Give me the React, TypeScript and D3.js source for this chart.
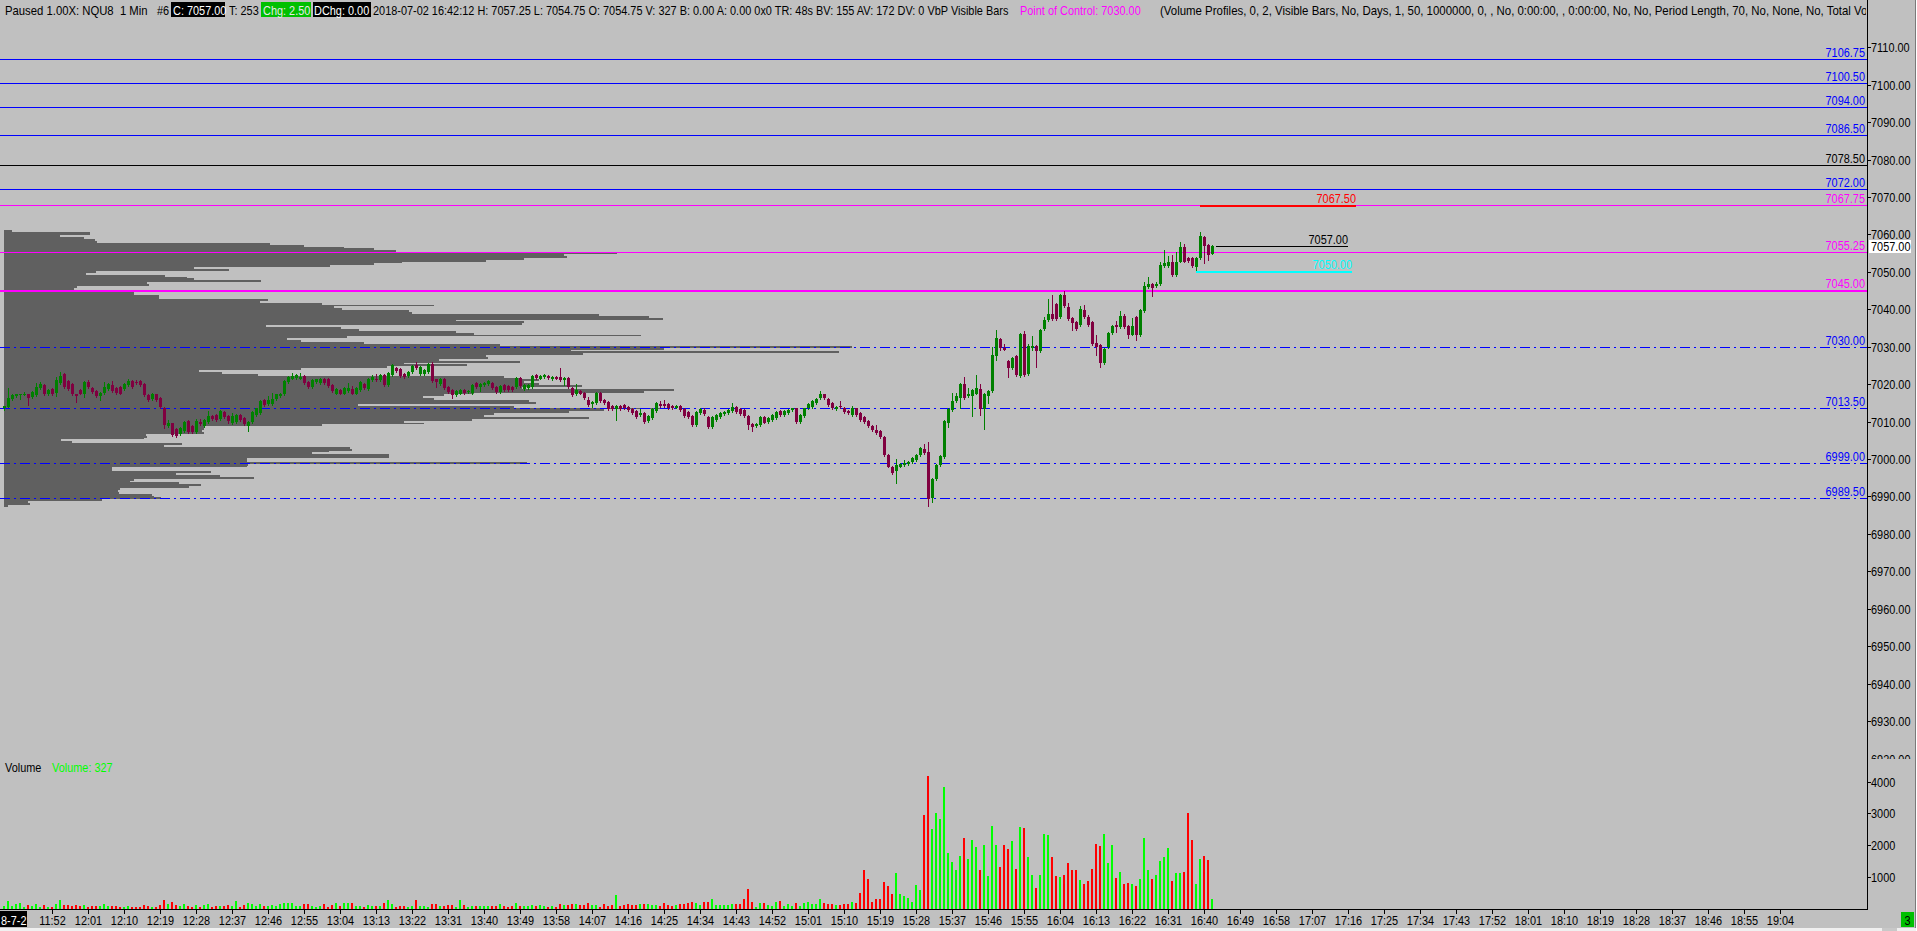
import React from 'react';
import * as d3 from 'd3';

const FONT = "'Liberation Sans', Arial, sans-serif";

// one-minute bars from 11:40, [open, high, low, close]
const candles: [number, number, number, number][] = [
  [7013.5, 7014.25, 7013.0, 7014.25], [7014.0, 7019.0, 7014.0, 7016.25], [7016.0, 7017.25, 7015.75, 7017.0], [7016.75, 7017.5, 7016.5, 7017.25],
  [7017.0, 7017.5, 7016.0, 7017.25], [7017.0, 7018.0, 7017.0, 7017.5], [7017.5, 7017.5, 7014.5, 7016.25], [7016.5, 7018.25, 7016.25, 7018.0],
  [7017.0, 7020.25, 7016.75, 7019.25], [7019.0, 7020.5, 7018.75, 7020.0], [7019.75, 7020.0, 7017.0, 7017.25], [7017.25, 7018.75, 7017.0, 7018.5],
  [7018.75, 7019.0, 7017.0, 7017.25], [7017.75, 7022.0, 7016.75, 7021.0], [7020.25, 7023.25, 7020.0, 7022.25], [7022.75, 7023.0, 7019.0, 7019.25],
  [7020.75, 7021.0, 7018.5, 7018.75], [7020.0, 7020.25, 7017.0, 7017.25], [7017.5, 7017.5, 7015.25, 7016.75], [7018.5, 7018.75, 7017.25, 7017.5],
  [7017.25, 7020.75, 7016.5, 7020.5], [7020.5, 7021.0, 7019.0, 7019.25], [7019.0, 7019.25, 7017.75, 7018.0], [7018.25, 7018.5, 7016.5, 7016.75],
  [7016.75, 7018.0, 7015.75, 7017.75], [7017.75, 7020.5, 7017.5, 7019.25], [7018.75, 7020.25, 7018.5, 7020.0], [7019.75, 7020.75, 7018.0, 7018.25],
  [7019.0, 7019.25, 7017.5, 7017.75], [7019.25, 7019.5, 7017.25, 7017.5], [7018.75, 7020.25, 7018.5, 7020.0], [7019.75, 7021.5, 7019.5, 7020.75],
  [7020.75, 7021.0, 7019.0, 7019.25], [7020.5, 7021.0, 7020.0, 7020.25], [7020.75, 7021.0, 7019.5, 7019.75], [7020.0, 7020.25, 7016.75, 7017.0],
  [7017.0, 7017.25, 7015.5, 7015.75], [7016.0, 7017.75, 7015.75, 7017.5], [7017.25, 7017.5, 7015.5, 7015.75], [7016.25, 7016.5, 7013.75, 7014.0],
  [7013.75, 7014.0, 7008.25, 7009.0], [7008.75, 7010.5, 7008.5, 7009.75], [7009.5, 7009.75, 7006.25, 7006.5], [7008.0, 7008.25, 7006.0, 7006.25],
  [7006.75, 7008.5, 7006.5, 7008.25], [7007.5, 7010.25, 7007.25, 7010.0], [7010.25, 7010.5, 7007.0, 7007.25], [7008.75, 7009.0, 7007.0, 7007.25],
  [7007.25, 7010.75, 7007.0, 7010.25], [7010.0, 7010.75, 7009.0, 7009.25], [7008.75, 7010.75, 7008.5, 7010.5], [7010.0, 7012.75, 7009.75, 7011.5],
  [7011.5, 7011.75, 7010.5, 7010.75], [7011.75, 7012.0, 7010.25, 7010.5], [7010.75, 7013.0, 7010.5, 7012.75], [7012.5, 7012.75, 7011.0, 7011.25],
  [7011.5, 7011.75, 7009.5, 7010.25], [7009.5, 7012.25, 7009.25, 7011.5], [7010.0, 7012.0, 7009.75, 7011.75], [7011.75, 7012.0, 7010.25, 7010.5],
  [7011.0, 7011.25, 7009.0, 7009.25], [7008.75, 7010.25, 7007.5, 7010.0], [7010.0, 7012.75, 7009.75, 7012.5], [7011.75, 7013.75, 7011.5, 7013.5],
  [7012.25, 7015.75, 7012.0, 7015.5], [7015.75, 7016.0, 7014.25, 7014.5], [7014.75, 7016.75, 7014.5, 7015.75], [7014.75, 7017.75, 7014.5, 7016.0],
  [7016.0, 7017.5, 7015.75, 7017.25], [7016.75, 7017.75, 7016.5, 7017.5], [7017.25, 7021.0, 7017.0, 7020.75], [7020.5, 7022.25, 7020.25, 7022.0],
  [7021.5, 7023.0, 7021.25, 7022.25], [7021.75, 7022.75, 7021.5, 7022.5], [7021.5, 7023.0, 7021.25, 7022.0], [7022.25, 7022.5, 7020.0, 7020.25],
  [7020.5, 7020.75, 7019.0, 7019.25], [7019.25, 7021.25, 7019.0, 7021.0], [7020.5, 7021.5, 7020.25, 7021.25], [7020.25, 7021.75, 7020.0, 7021.5],
  [7021.5, 7021.75, 7020.0, 7020.25], [7021.25, 7021.75, 7019.25, 7019.5], [7019.75, 7020.0, 7018.0, 7018.25], [7017.5, 7019.0, 7017.25, 7018.75],
  [7018.5, 7018.75, 7017.25, 7017.5], [7017.5, 7019.25, 7017.25, 7019.0], [7018.25, 7020.25, 7018.0, 7019.0], [7018.75, 7019.5, 7017.25, 7017.5],
  [7017.5, 7019.25, 7017.25, 7019.0], [7018.5, 7020.75, 7018.25, 7020.5], [7020.0, 7020.25, 7018.75, 7019.0], [7018.75, 7021.75, 7018.5, 7021.5],
  [7021.0, 7022.5, 7020.75, 7022.0], [7021.5, 7022.75, 7020.75, 7021.0], [7021.0, 7022.75, 7020.75, 7022.5], [7022.5, 7022.75, 7019.5, 7019.75],
  [7019.75, 7023.25, 7019.5, 7023.0], [7022.5, 7025.25, 7022.25, 7025.0], [7024.25, 7024.5, 7023.25, 7023.5], [7024.0, 7024.25, 7022.0, 7022.25],
  [7022.75, 7023.0, 7021.75, 7022.0], [7022.25, 7023.5, 7022.0, 7023.25], [7023.25, 7025.0, 7023.0, 7024.75], [7025.0, 7026.0, 7024.0, 7024.25],
  [7022.75, 7024.75, 7022.5, 7024.5], [7022.75, 7024.0, 7022.5, 7023.75], [7023.25, 7025.75, 7023.0, 7025.5], [7025.5, 7026.0, 7020.5, 7020.75],
  [7021.25, 7021.5, 7019.25, 7020.5], [7020.0, 7021.75, 7019.75, 7021.5], [7021.5, 7021.75, 7018.75, 7019.0], [7019.25, 7019.5, 7017.75, 7018.0],
  [7018.5, 7018.75, 7016.25, 7017.0], [7017.0, 7018.5, 7016.75, 7018.25], [7017.5, 7018.75, 7017.25, 7018.5], [7018.5, 7018.75, 7017.5, 7017.75],
  [7018.0, 7018.5, 7017.75, 7018.25], [7017.75, 7020.0, 7017.5, 7019.75], [7020.25, 7020.5, 7019.0, 7019.25], [7019.25, 7020.25, 7018.25, 7020.0],
  [7019.75, 7020.5, 7019.5, 7020.25], [7020.0, 7021.0, 7019.75, 7020.75], [7020.25, 7020.5, 7018.75, 7019.0], [7019.25, 7019.5, 7017.75, 7018.0],
  [7018.0, 7019.75, 7017.75, 7019.5], [7019.75, 7020.0, 7018.25, 7018.5], [7019.5, 7019.75, 7018.25, 7018.5], [7019.25, 7019.5, 7018.25, 7018.5],
  [7019.25, 7022.0, 7019.0, 7021.75], [7021.75, 7022.0, 7019.25, 7019.5], [7018.75, 7020.0, 7018.5, 7019.75], [7019.0, 7020.0, 7018.75, 7019.75],
  [7019.25, 7022.5, 7019.0, 7022.25], [7022.5, 7022.75, 7021.5, 7021.75], [7021.5, 7022.5, 7021.25, 7022.25], [7022.0, 7022.75, 7021.75, 7022.5],
  [7022.25, 7022.5, 7021.5, 7021.75], [7021.25, 7022.25, 7021.0, 7022.0], [7022.0, 7022.25, 7021.25, 7021.5], [7022.0, 7024.25, 7020.75, 7021.0],
  [7021.0, 7022.0, 7019.75, 7021.75], [7021.75, 7022.0, 7019.0, 7019.25], [7019.0, 7019.25, 7016.75, 7017.0], [7017.25, 7020.0, 7017.0, 7018.5],
  [7018.25, 7018.5, 7017.25, 7017.5], [7017.75, 7018.0, 7016.0, 7016.25], [7015.75, 7016.5, 7014.25, 7014.5], [7014.75, 7015.5, 7014.0, 7015.25],
  [7015.0, 7018.0, 7014.75, 7017.75], [7017.75, 7018.0, 7015.25, 7015.5], [7015.75, 7016.0, 7014.75, 7015.0], [7015.25, 7015.5, 7013.0, 7013.25],
  [7014.25, 7014.5, 7013.0, 7013.25], [7013.25, 7014.5, 7010.5, 7014.25], [7014.25, 7014.5, 7013.0, 7013.25], [7014.5, 7014.75, 7013.25, 7013.5],
  [7014.0, 7014.25, 7012.75, 7013.0], [7013.25, 7013.5, 7012.0, 7012.25], [7012.75, 7013.0, 7011.0, 7011.25], [7011.75, 7013.25, 7011.5, 7012.25],
  [7012.25, 7012.5, 7009.75, 7010.0], [7010.25, 7011.75, 7010.0, 7011.5], [7011.0, 7013.5, 7010.75, 7013.25], [7012.75, 7015.25, 7012.5, 7015.0],
  [7014.75, 7015.5, 7014.0, 7014.25], [7014.75, 7015.75, 7014.0, 7014.25], [7014.75, 7015.0, 7013.25, 7013.5], [7014.25, 7014.5, 7013.25, 7013.5],
  [7013.75, 7014.5, 7013.5, 7014.25], [7014.25, 7014.5, 7012.75, 7013.0], [7013.25, 7013.5, 7011.25, 7011.5], [7012.5, 7012.75, 7011.0, 7011.25],
  [7011.5, 7011.75, 7008.75, 7009.0], [7009.0, 7012.75, 7008.75, 7012.5], [7012.25, 7013.5, 7012.0, 7013.25], [7013.0, 7013.75, 7011.75, 7012.0],
  [7011.25, 7011.5, 7008.25, 7008.5], [7008.5, 7011.5, 7008.25, 7011.25], [7010.5, 7012.0, 7010.25, 7011.75], [7011.25, 7012.5, 7011.0, 7012.25],
  [7012.0, 7012.75, 7011.75, 7012.5], [7012.25, 7013.25, 7012.0, 7013.0], [7012.75, 7015.0, 7012.5, 7014.0], [7014.0, 7014.25, 7012.25, 7012.5],
  [7013.25, 7013.5, 7011.75, 7012.0], [7013.0, 7013.25, 7011.25, 7011.5], [7011.5, 7011.75, 7008.0, 7009.0], [7009.25, 7009.5, 7007.5, 7008.5],
  [7008.75, 7009.5, 7008.5, 7009.25], [7009.0, 7011.5, 7008.75, 7011.25], [7011.25, 7011.5, 7009.5, 7009.75], [7010.0, 7011.25, 7009.75, 7011.0],
  [7010.5, 7012.0, 7010.25, 7011.75], [7011.0, 7012.75, 7010.75, 7012.5], [7012.75, 7013.0, 7011.5, 7011.75], [7011.75, 7013.0, 7011.5, 7012.75],
  [7012.25, 7013.25, 7012.0, 7013.0], [7013.0, 7013.75, 7012.75, 7013.5], [7013.5, 7013.75, 7009.75, 7010.0], [7010.0, 7012.0, 7009.75, 7011.75],
  [7011.5, 7013.75, 7011.25, 7013.5], [7013.5, 7015.0, 7013.25, 7014.75], [7014.0, 7015.75, 7013.75, 7015.5], [7015.0, 7016.25, 7014.75, 7016.0],
  [7016.25, 7018.25, 7016.0, 7017.25], [7017.25, 7017.5, 7016.0, 7016.25], [7016.0, 7016.25, 7014.25, 7014.5], [7015.0, 7015.25, 7013.25, 7013.5],
  [7013.25, 7014.25, 7013.0, 7014.0], [7014.25, 7015.5, 7013.75, 7014.0], [7013.75, 7014.0, 7012.25, 7012.5], [7012.75, 7013.0, 7012.0, 7012.25],
  [7011.75, 7014.25, 7011.5, 7013.5], [7013.5, 7013.75, 7011.5, 7011.75], [7012.25, 7012.5, 7010.25, 7010.5], [7011.25, 7011.5, 7009.75, 7010.0],
  [7010.25, 7010.5, 7008.5, 7008.75], [7008.75, 7009.0, 7007.5, 7007.75], [7007.75, 7009.0, 7006.75, 7007.0], [7007.5, 7007.75, 7005.75, 7006.0],
  [7006.0, 7006.25, 7000.75, 7001.0], [7001.0, 7001.25, 6997.75, 6998.0], [6998.0, 6998.25, 6996.0, 6996.25], [6996.75, 7000.0, 6993.5, 6998.5],
  [6998.0, 6999.0, 6997.75, 6998.75], [6998.5, 6999.75, 6998.25, 6999.0], [6998.75, 6999.5, 6998.5, 6999.25], [6999.25, 7000.5, 6999.0, 7000.25],
  [6999.75, 7001.25, 6999.5, 7001.0], [7001.0, 7003.25, 7000.75, 7003.0], [7002.75, 7004.0, 7001.25, 7001.5], [7002.0, 7004.5, 6987.5, 6989.25],
  [6989.5, 6995.0, 6988.5, 6994.75], [6994.75, 6998.75, 6994.5, 6998.5], [6998.5, 7001.0, 6998.25, 7000.75], [7000.5, 7010.5, 7000.25, 7010.25],
  [7009.75, 7013.5, 7008.5, 7013.25], [7013.0, 7017.75, 7012.75, 7015.5], [7015.5, 7017.75, 7015.25, 7016.75], [7016.25, 7020.25, 7013.75, 7020.0],
  [7020.0, 7022.0, 7016.0, 7016.25], [7016.75, 7019.0, 7016.5, 7017.5], [7016.75, 7018.75, 7011.5, 7018.5], [7017.5, 7022.5, 7017.25, 7019.0],
  [7018.75, 7020.0, 7011.75, 7013.25], [7013.25, 7017.75, 7008.0, 7017.5], [7016.75, 7018.5, 7015.0, 7018.25], [7018.25, 7030.0, 7018.0, 7027.75],
  [7027.5, 7034.5, 7026.5, 7032.25], [7032.0, 7032.25, 7029.0, 7029.75], [7029.75, 7030.75, 7029.0, 7029.25], [7026.25, 7026.5, 7022.0, 7024.25],
  [7024.25, 7027.25, 7024.0, 7027.0], [7027.5, 7027.75, 7022.25, 7022.5], [7022.25, 7033.75, 7022.0, 7033.5], [7033.5, 7034.25, 7022.25, 7022.5],
  [7022.75, 7030.75, 7022.5, 7030.25], [7029.75, 7032.75, 7029.25, 7030.25], [7030.25, 7030.5, 7024.5, 7028.75], [7028.75, 7034.75, 7028.5, 7034.5],
  [7034.75, 7038.0, 7034.5, 7037.25], [7037.25, 7042.75, 7037.0, 7038.75], [7038.75, 7043.75, 7037.25, 7037.5], [7041.5, 7041.75, 7037.25, 7037.5],
  [7038.0, 7044.0, 7037.75, 7043.75], [7043.75, 7044.75, 7040.5, 7040.75], [7040.5, 7041.75, 7037.25, 7037.5], [7037.75, 7038.0, 7034.5, 7036.25],
  [7036.5, 7036.75, 7034.5, 7034.75], [7035.75, 7040.75, 7035.5, 7040.0], [7039.75, 7041.25, 7037.75, 7038.0], [7038.0, 7038.5, 7035.5, 7035.75],
  [7036.5, 7036.75, 7030.5, 7030.75], [7031.0, 7033.0, 7027.75, 7030.0], [7030.5, 7030.75, 7024.5, 7025.75], [7025.75, 7029.75, 7025.5, 7029.5],
  [7030.0, 7034.0, 7029.75, 7033.75], [7033.75, 7035.75, 7033.5, 7035.5], [7035.75, 7036.75, 7034.0, 7035.25], [7035.25, 7039.5, 7035.0, 7038.25],
  [7038.25, 7038.75, 7035.0, 7035.25], [7035.5, 7035.75, 7032.25, 7033.0], [7033.25, 7037.75, 7033.0, 7035.5], [7038.0, 7038.25, 7031.75, 7033.0],
  [7033.0, 7040.0, 7032.75, 7039.75], [7039.5, 7047.25, 7039.25, 7046.25], [7046.0, 7048.75, 7045.75, 7046.75], [7046.75, 7047.0, 7043.5, 7045.75],
  [7046.25, 7047.25, 7046.0, 7046.75], [7046.75, 7052.75, 7046.5, 7051.75], [7051.5, 7055.75, 7051.25, 7052.25], [7051.5, 7054.25, 7051.25, 7052.75],
  [7052.5, 7054.5, 7049.0, 7049.25], [7049.25, 7055.25, 7049.0, 7052.75], [7052.75, 7058.0, 7052.5, 7056.75], [7056.75, 7057.5, 7052.5, 7052.75],
  [7053.75, 7054.0, 7052.75, 7053.0], [7053.75, 7054.0, 7051.25, 7051.5], [7051.25, 7054.0, 7050.25, 7053.75], [7053.75, 7060.75, 7053.5, 7059.5],
  [7059.25, 7059.5, 7052.25, 7057.0], [7057.25, 7057.5, 7053.25, 7054.5], [7054.75, 7057.25, 7054.75, 7057.0],
];

// contracts per bar, same order as candles
const volumes: number[] = [
  100, 250, 100, 145, 175, 60, 125, 95, 155, 60, 125, 60, 70, 155, 280, 125, 115, 105, 125, 95,
  125, 70, 105, 105, 95, 155, 105, 95, 95, 60, 70, 95, 60, 60, 70, 125, 95, 60, 70, 125,
  280, 155, 220, 125, 105, 155, 105, 60, 125, 60, 125, 155, 70, 105, 95, 95, 125, 95, 250, 70,
  125, 175, 155, 95, 155, 105, 95, 125, 105, 155, 185, 185, 185, 105, 105, 155, 155, 95, 70, 95,
  155, 70, 125, 185, 105, 185, 185, 185, 105, 105, 60, 125, 105, 105, 105, 185, 280, 155, 60, 105,
  105, 70, 105, 280, 105, 95, 60, 155, 155, 105, 105, 125, 125, 60, 280, 125, 60, 105, 105, 105,
  105, 105, 105, 105, 155, 105, 60, 105, 185, 105, 105, 105, 125, 105, 125, 105, 60, 105, 60, 155,
  125, 125, 155, 155, 125, 125, 185, 125, 125, 60, 155, 105, 120,
  440, 105, 125, 155, 125, 125, 155, 155, 155, 125, 125, 95, 185, 125, 95, 125, 155, 155, 185, 220,
  175, 125, 220, 220, 310, 125, 125, 125, 125, 155, 155, 155, 310, 625, 220, 60, 185, 185, 125, 95,
  220, 250, 95, 155, 95, 185, 95, 185, 220, 155, 155, 310, 185, 155, 155, 125, 125, 155, 155, 220,
  185, 500, 1215, 935, 220, 310, 310, 840, 720, 470, 1125, 470, 405, 345, 220, 750, 595, 2935, 4180, 2500,
  3000, 2810, 3840, 1750, 1465, 1215, 1655, 2215, 1560, 2150, 1935, 1215, 2000, 1030, 2590, 2000, 1310, 2000, 1870, 2120,
  1250, 2560, 2530, 1620, 1060, 655, 1060, 2340, 2310, 1620, 1030, 1000, 1060, 1435, 1215, 1215, 905, 780, 875, 1250,
  2030, 1965, 2340, 1435, 2000, 965, 1155, 780, 810, 780, 720, 935, 2215, 1215, 935, 1060, 1500, 1620, 1905, 875,
  1125, 1125, 1155, 3025, 2150, 780, 1560, 1655, 1530, 327,
];

// volume at price, rows of 0.5 from 7061.00 down to 6987.50
const profileTop = 7061.0;
const profileStep = 0.5;
const profileVolume: number[] = [
  8, 86, 86, 56, 80, 91, 93, 266, 300, 340, 370, 392, 613, 560, 563, 520, 482, 398, 370, 326,
  190, 225, 92, 82, 161, 183, 190, 257, 143, 145, 73, 70, 65, 130, 130, 155, 155, 264, 256, 318,
  430, 330, 338, 405, 408, 595, 645, 659, 452, 520, 518, 262, 337, 355, 452, 470, 637, 343, 283, 297,
  360, 496, 848, 660, 567, 835, 579, 482, 484, 435, 516, 400, 463, 383, 297, 195, 218, 254, 500, 516,
  535, 520, 535, 578, 518, 670, 640, 470, 440, 419, 430, 525, 532, 354, 510, 664, 600, 565, 490, 480,
  585, 468, 400, 420, 318, 200, 200, 198, 200, 142, 143, 140, 57, 68, 178, 160, 346, 348, 325, 308,
  385, 385, 243, 243, 523, 244, 243, 108, 108, 207, 172, 216, 250, 130, 126, 175, 197, 185, 116, 114,
  115, 148, 150, 157, 98, 24, 26, 4,
];

const blueLevels = [7106.75, 7100.5, 7094.0, 7086.5, 7072.0];
const blackLevels = [7078.5];
const magentaLevels = [7067.75, 7055.25];
const magentaBoldLevels = [7045.0];
const dashLevels = [7030.0, 7013.5, 6999.0, 6989.5];

const lastPrice = 7057.0;
const priorHigh = 7067.5;
const recentLow = 7050.0;

const priceTicks = [7110, 7100, 7090, 7080, 7070, 7060, 7050, 7040, 7030, 7020, 7010, 7000, 6990, 6980, 6970, 6960, 6950, 6940, 6930, 6920];
const volumeTicks = [1000, 2000, 3000, 4000];
const firstBarTime = '11:40';
const timeLabels = [
  '11:52', '12:01', '12:10', '12:19', '12:28', '12:37', '12:46', '12:55', '13:04', '13:13', '13:22', '13:31', '13:40', '13:49',
  '13:58', '14:07', '14:16', '14:25', '14:34', '14:43', '14:52', '15:01', '15:10', '15:19', '15:28', '15:37', '15:46', '15:55',
  '16:04', '16:13', '16:22', '16:31', '16:40', '16:49', '16:58', '17:07', '17:16', '17:25', '17:34', '17:43', '17:52', '18:01',
  '18:10', '18:19', '18:28', '18:37', '18:46', '18:55', '19:04',
];

const W = 1917;
const H = 931;
const AXIS_X = 1867;
const PRICE_BOTTOM = 759;
const VOL_BASE = 909;
const NARROW = 0.84; // the platform font is narrower than Liberation Sans

const toMin = (s: string) => {
  const [h, m] = s.split(':').map(Number);
  return h * 60 + m;
};

const x = d3.scaleLinear().domain([0, 444]).range([4.3, 1780.3]);
const y = d3.scaleLinear().domain([6930, 7110]).range([721.1, 47.2]);
const yv = d3.scaleLinear().domain([0, 4000]).range([VOL_BASE, 781.5]);
const xp = d3.scaleLinear().domain([0, d3.max(profileVolume) as number]).range([0, 848]);

const UP = '#008000';
const DOWN = '#800040';

// narrow text
function T({ x: tx, y: ty, fill = '#000', anchor = 'start', sx = NARROW, children }: any) {
  return (
    <text transform={`translate(${tx},${ty}) scale(${sx},1)`} textAnchor={anchor} fill={fill} fontSize={13} style={{ whiteSpace: 'pre' }}>
      {children}
    </text>
  );
}

function LevelLine({ price, color, width = 1, dash }: any) {
  const yy = Math.round(y(price)) + (width === 1 ? 0.5 : 0);
  return (
    <g>
      <line x1={0} x2={AXIS_X} y1={yy} y2={yy} stroke={color} strokeWidth={width} strokeDasharray={dash} />
      <T x={1865} y={yy - 3} anchor="end" fill={color}>{price.toFixed(2)}</T>
    </g>
  );
}

function ShortLine({ price, from, to, color, width }: any) {
  const yy = Math.round(y(price)) + (width === 1 ? 0.5 : 0);
  const x1 = Math.round(x(from));
  const x2 = Math.round(x(to));
  return (
    <g>
      <line x1={x1} x2={x2} y1={yy} y2={yy} stroke={color} strokeWidth={width} />
      <T x={x2} y={yy - 3} anchor="end" fill={color}>{price.toFixed(2)}</T>
    </g>
  );
}

export default function App() {
  const t0 = toMin(firstBarTime);
  const n = candles.length;

  return (
    <svg width={W} height={H} style={{ position: 'absolute', left: 0, top: 0, display: 'block' }} fontFamily={FONT}>
      <defs>
        <clipPath id="priceClip"><rect x={0} y={0} width={AXIS_X} height={PRICE_BOTTOM} /></clipPath>
        <clipPath id="volClip"><rect x={0} y={PRICE_BOTTOM} width={AXIS_X} height={VOL_BASE - PRICE_BOTTOM} /></clipPath>
        <clipPath id="headClip"><rect x={0} y={0} width={AXIS_X - 1} height={20} /></clipPath>
        <clipPath id="axisClip"><rect x={AXIS_X} y={20} width={W - AXIS_X} height={PRICE_BOTTOM - 20} /></clipPath>
      </defs>
      <rect x={0} y={0} width={W} height={H} fill="#c0c0c0" />

      {/* price panel */}
      <g clipPath="url(#priceClip)">
        {profileVolume.map((v, i) => {
          const p = profileTop - i * profileStep;
          const y0 = Math.round(y(p + profileStep / 2));
          const y1 = Math.round(y(p - profileStep / 2));
          return <rect key={'pf' + i} x={4} y={y0} width={xp(v)} height={Math.max(1, y1 - y0)} fill="#606060" />;
        })}

        {blueLevels.map(p => <LevelLine key={'b' + p} price={p} color="#0000ff" />)}
        {blackLevels.map(p => <LevelLine key={'k' + p} price={p} color="#000000" />)}
        {magentaLevels.map(p => <LevelLine key={'m' + p} price={p} color="#ff00ff" />)}
        {magentaBoldLevels.map(p => <LevelLine key={'mb' + p} price={p} color="#ff00ff" width={2} />)}
        {dashLevels.map(p => <LevelLine key={'d' + p} price={p} color="#0000ff" dash="10,4,2,4" />)}

        <g shapeRendering="crispEdges">
          {candles.map(([o, h, l, c], i) => {
            const cx = Math.round(x(i));
            const col = c >= o ? UP : DOWN;
            const top = Math.round(y(Math.max(o, c)));
            const bot = Math.round(y(Math.min(o, c)));
            return (
              <g key={'c' + i}>
                <line x1={cx + 0.5} x2={cx + 0.5} y1={Math.round(y(h))} y2={Math.round(y(l)) + 1} stroke={col} strokeWidth={1} />
                <rect x={cx - 1} y={top} width={3} height={Math.max(1, bot - top)} fill={col} />
              </g>
            );
          })}
        </g>

        <ShortLine price={priorHigh} from={n - 4} to={n + 35} color="#ff0000" width={2} />
        <ShortLine price={lastPrice} from={n} to={n + 33} color="#000000" width={1} />
        <ShortLine price={recentLow} from={n - 5} to={n + 34} color="#00ffff" width={2} />
      </g>

      {/* volume panel */}
      <g clipPath="url(#volClip)" shapeRendering="crispEdges">
        {volumes.map((v, i) => {
          const [o, , , c] = candles[i];
          const cx = Math.round(x(i));
          const top = Math.round(yv(v));
          return <rect key={'v' + i} x={cx - 1} y={top} width={2} height={VOL_BASE - top} fill={c >= o ? '#00ff00' : '#ff0000'} />;
        })}
      </g>
      <T x={5} y={772}>Volume</T>
      <T x={52} y={772} fill="#00ff00">{'Volume: ' + volumes[volumes.length - 1]}</T>

      {/* axes */}
      <g shapeRendering="crispEdges">
        <line x1={AXIS_X + 0.5} x2={AXIS_X + 0.5} y1={0} y2={VOL_BASE + 1} stroke="#000" />
        <line x1={0} x2={AXIS_X + 1} y1={VOL_BASE + 0.5} y2={VOL_BASE + 0.5} stroke="#000" />
        <line x1={1915.5} x2={1915.5} y1={0} y2={928} stroke="#7a7a7a" />
        <rect x={1916} y={0} width={1} height={H} fill="#ffffff" />
      </g>
      <g clipPath="url(#axisClip)">
        {priceTicks.map(p => {
          const yy = Math.round(y(p)) + 0.5;
          return (
            <g key={'pt' + p}>
              <line x1={AXIS_X} x2={AXIS_X + 4} y1={yy} y2={yy} stroke="#000" />
              <T x={AXIS_X + 4} y={yy + 4.5}>{p.toFixed(2)}</T>
            </g>
          );
        })}
      </g>
      <rect x={AXIS_X + 2} y={Math.round(y(lastPrice)) - 6} width={42} height={13} fill="#ffffff" />
      <T x={AXIS_X + 4} y={Math.round(y(lastPrice)) + 5}>{lastPrice.toFixed(2)}</T>

      {volumeTicks.map(v => {
        const yy = Math.round(yv(v)) + 0.5;
        return (
          <g key={'vt' + v}>
            <line x1={AXIS_X} x2={AXIS_X + 4} y1={yy} y2={yy} stroke="#000" />
            <T x={AXIS_X + 4} y={yy + 4.5}>{v}</T>
          </g>
        );
      })}

      {timeLabels.map(t => {
        const tx = Math.round(x(toMin(t) - t0)) + 0.5;
        return (
          <g key={'tl' + t}>
            <line x1={tx} x2={tx} y1={VOL_BASE} y2={VOL_BASE + 5} stroke="#000" />
            <T x={tx} y={925} anchor="middle">{t}</T>
          </g>
        );
      })}
      <rect x={0} y={911} width={27} height={16} fill="#000" />
      <T x={1} y={925} fill="#fff">8-7-2</T>

      <rect x={0} y={928} width={1916} height={3} fill="#f0f0f0" />
      <rect x={1882} y={928} width={15} height={3} fill="#c8c8c8" />
      <rect x={1901} y={912} width={13} height={15} fill="#00c000" />
      <T x={1907.5} y={924.5} anchor="middle">3</T>

      {/* header */}
      <g clipPath="url(#headClip)">
        <T x={5} y={14.5} sx={0.87}>Paused 1.00X: NQU8  1 Min</T>
        <T x={157} y={14.5}>#6</T>
        <rect x={171} y={2} width={54} height={15} fill="#000" />
        <T x={173} y={14.5} fill="#fff">C: 7057.00</T>
        <T x={229} y={14.5}>T: 253</T>
        <rect x={261} y={2} width={50} height={15} fill="#00c000" />
        <T x={263} y={14.5} fill="#e8e8e8">Chg: 2.50</T>
        <rect x={313} y={2} width={58} height={15} fill="#000" />
        <T x={314} y={14.5} fill="#fff">DChg: 0.00</T>
        <T x={373} y={14.5}>2018-07-02 16:42:12 H: 7057.25 L: 7054.75 O: 7054.75 V: 327 B: 0.00 A: 0.00 0x0 TR: 48s BV: 155 AV: 172 DV: 0 VbP Visible Bars</T>
        <T x={1020} y={14.5} fill="#ff00ff">Point of Control: 7030.00</T>
        <T x={1160} y={14.5} sx={0.88}>(Volume Profiles, 0, 2, Visible Bars, No, Days, 1, 50, 1000000, 0, , No, 0:00:00, , 0:00:00, No, No, Period Length, 70, No, None, No, Total Volume)</T>
      </g>
    </svg>
  );
}
